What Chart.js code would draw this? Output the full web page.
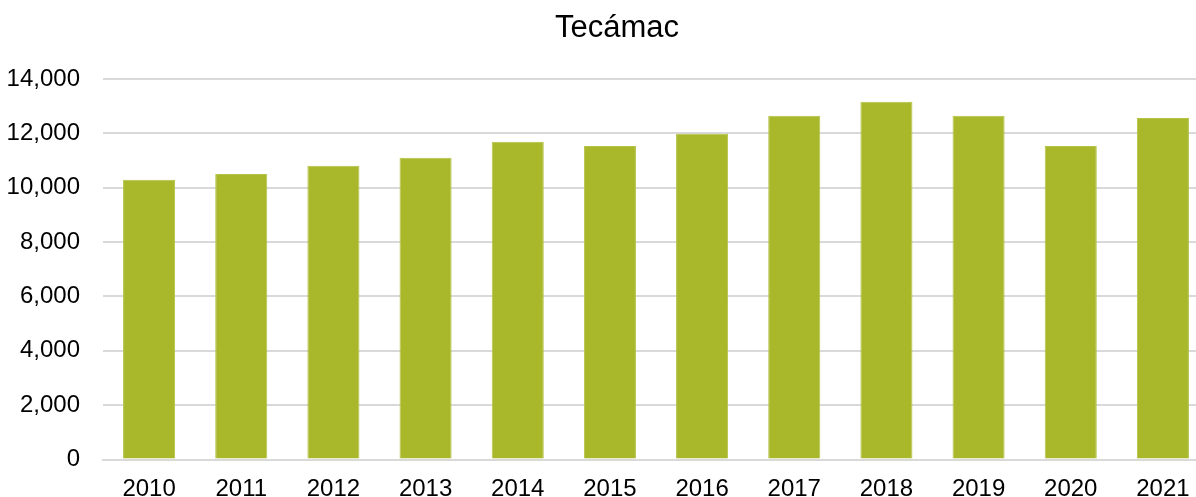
<!DOCTYPE html>
<html>
<head>
<meta charset="utf-8">
<script src="https://cdn.jsdelivr.net/npm/chart.js@4"></script>
<style>
  html, body { margin: 0; padding: 0; background: #fff; overflow: hidden; }
  /* the plot runs a little past the right edge in the source, so the canvas is wider than the window */
  #wrap { width: 1209px; height: 497px; }
</style>
</head>
<body>
<div id="wrap"><canvas id="tecamacChart"></canvas></div>
<script>
const chartTitle = 'Tecámac';
const years = ['2010', '2011', '2012', '2013', '2014', '2015', '2016', '2017', '2018', '2019', '2020', '2021'];
const values = [10290, 10510, 10810, 11100, 11690, 11540, 11990, 12650, 13160, 12650, 11540, 12570];
const yTicks = [0, 2000, 4000, 6000, 8000, 10000, 12000, 14000];

const font = "'Liberation Sans', Arial, sans-serif";

// title is centred at a fixed spot, like in the source picture
const titlePlugin = {
    id: 'fixedTitle',
    afterDraw(chart) {
        const ctx = chart.ctx;
        ctx.save();
        ctx.font = '31px ' + font;
        ctx.fillStyle = '#000';
        ctx.textAlign = 'center';
        ctx.textBaseline = 'middle';
        ctx.fillText(chartTitle, 617, 28);
        ctx.restore();
    }
};

new Chart(document.getElementById('tecamacChart').getContext('2d'), {
    type: 'bar',
    data: {
        labels: years,
        datasets: [{
            label: chartTitle,
            data: values,
            backgroundColor: '#a8b82a',
            borderColor: '#b4c246',
            borderWidth: { left: 1, right: 1, top: 1, bottom: 0 },
            categoryPercentage: 1,
            barPercentage: 0.565,
        }],
    },
    options: {
        responsive: true,
        maintainAspectRatio: false,
        animation: false,
        layout: { padding: { top: 79, left: 0, right: 0, bottom: 0 } },
        plugins: {
            legend: { display: false },
            title: { display: false },
            tooltip: { enabled: false },
        },
        scales: {
            x: {
                afterFit: (scale) => { scale.height = 37; },
                grid: { display: false, drawTicks: false },
                border: { display: true, color: '#d9d9d9', width: 2 },
                ticks: {
                    color: '#000',
                    padding: 18,
                    font: { family: font, size: 24, lineHeight: 1 },
                },
            },
            y: {
                min: 0,
                max: 14000,
                afterBuildTicks: (axis) => { axis.ticks = yTicks.map((v) => ({ value: v })); },
                afterFit: (scale) => { scale.width = 103; },
                grid: { color: '#d9d9d9', lineWidth: 2, drawTicks: false },
                border: { display: false },
                ticks: {
                    color: '#000',
                    padding: 23,
                    font: { family: font, size: 24 },
                    callback: (v) => v.toLocaleString('en-US'),
                },
            },
        },
    },
    plugins: [titlePlugin],
});
</script>
</body>
</html>
